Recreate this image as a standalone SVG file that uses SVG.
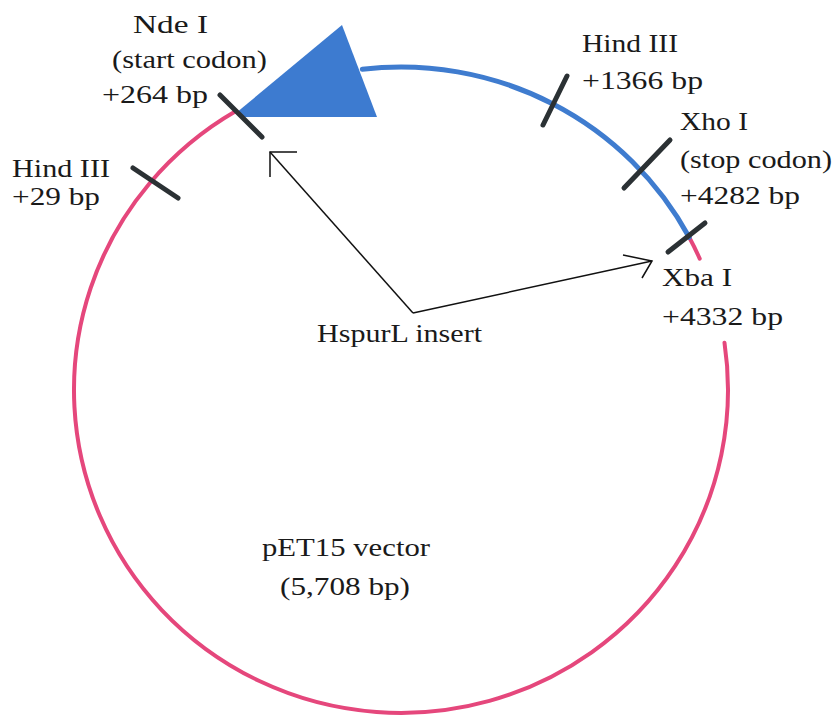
<svg xmlns="http://www.w3.org/2000/svg" width="834" height="717" viewBox="0 0 834 717">
  <style>
    text { font-family: "Liberation Serif", "DejaVu Serif", serif; font-size: 26px; fill: #1a1a1a; }
    .vec { fill: none; stroke: #e5477c; stroke-width: 4; stroke-linecap: round; }
    .ins { fill: none; stroke: #3f7ccf; stroke-width: 5; stroke-linecap: round; }
    .site { stroke: #2b3134; stroke-width: 5; stroke-linecap: round; }
    .ptr { fill: none; stroke: #111; stroke-width: 1.5; stroke-linejoin: miter; }
  </style>
  <rect width="834" height="717" fill="#ffffff"/>

  <!-- plasmid backbone (pET15) and HspurL insert -->
  <g id="plasmid">
    <path class="vec" d="M 236,111 A 327 323 0 1 0 724.5,342.8"/>
    <path class="vec" d="M 689.2,237.3 A 327 323 0 0 1 699.7,258.6"/>
    <path class="ins" d="M 362.3,69.3 A 327 323 0 0 1 689.2,237.3"/>
    <polygon points="236,113 342,25 377,117 245,117" fill="#3d7bd0"/>
  </g>

  <!-- restriction sites -->
  <g id="site-hind3-29">
    <line class="site" x1="133" y1="168" x2="178" y2="198"/>
    <text x="12" y="177" textLength="98" lengthAdjust="spacingAndGlyphs">Hind III</text>
    <text x="12" y="205" textLength="88" lengthAdjust="spacingAndGlyphs">+29 bp</text>
  </g>
  <g id="site-nde1">
    <line class="site" x1="220" y1="95" x2="262" y2="137"/>
    <text x="133" y="33" textLength="75" lengthAdjust="spacingAndGlyphs">Nde I</text>
    <text x="112" y="68" textLength="155" lengthAdjust="spacingAndGlyphs">(start codon)</text>
    <text x="102" y="103" textLength="106" lengthAdjust="spacingAndGlyphs">+264 bp</text>
  </g>
  <g id="site-hind3-1366">
    <line class="site" x1="567" y1="76" x2="543" y2="125"/>
    <text x="582" y="52" textLength="96" lengthAdjust="spacingAndGlyphs">Hind III</text>
    <text x="582" y="89" textLength="121" lengthAdjust="spacingAndGlyphs">+1366 bp</text>
  </g>
  <g id="site-xho1">
    <line class="site" x1="670" y1="140" x2="624" y2="188"/>
    <text x="680" y="130" textLength="68" lengthAdjust="spacingAndGlyphs">Xho I</text>
    <text x="680" y="168" textLength="152" lengthAdjust="spacingAndGlyphs">(stop codon)</text>
    <text x="680" y="204" textLength="120" lengthAdjust="spacingAndGlyphs">+4282 bp</text>
  </g>
  <g id="site-xba1">
    <line class="site" x1="705" y1="223" x2="668" y2="252"/>
    <text x="662" y="286" textLength="70" lengthAdjust="spacingAndGlyphs">Xba I</text>
    <text x="662" y="325" textLength="121" lengthAdjust="spacingAndGlyphs">+4332 bp</text>
  </g>

  <!-- insert label -->
  <g id="insert-label">
    <text x="317" y="342" textLength="165" lengthAdjust="spacingAndGlyphs">HspurL insert</text>
  </g>

  <!-- vector label -->
  <g id="vector-label">
    <text x="262" y="556" textLength="168" lengthAdjust="spacingAndGlyphs">pET15 vector</text>
    <text x="280" y="595" textLength="130" lengthAdjust="spacingAndGlyphs">(5,708 bp)</text>
  </g>

  <!-- pointers from the insert label to the insert ends -->
  <g id="connectors">
    <polyline class="ptr" points="413,313 270,152"/>
    <polyline class="ptr" points="297,152 270,152 270,177"/>
    <polyline class="ptr" points="413,313 652,261"/>
    <polyline class="ptr" points="623,255 652,261 642,278"/>
  </g>
</svg>
